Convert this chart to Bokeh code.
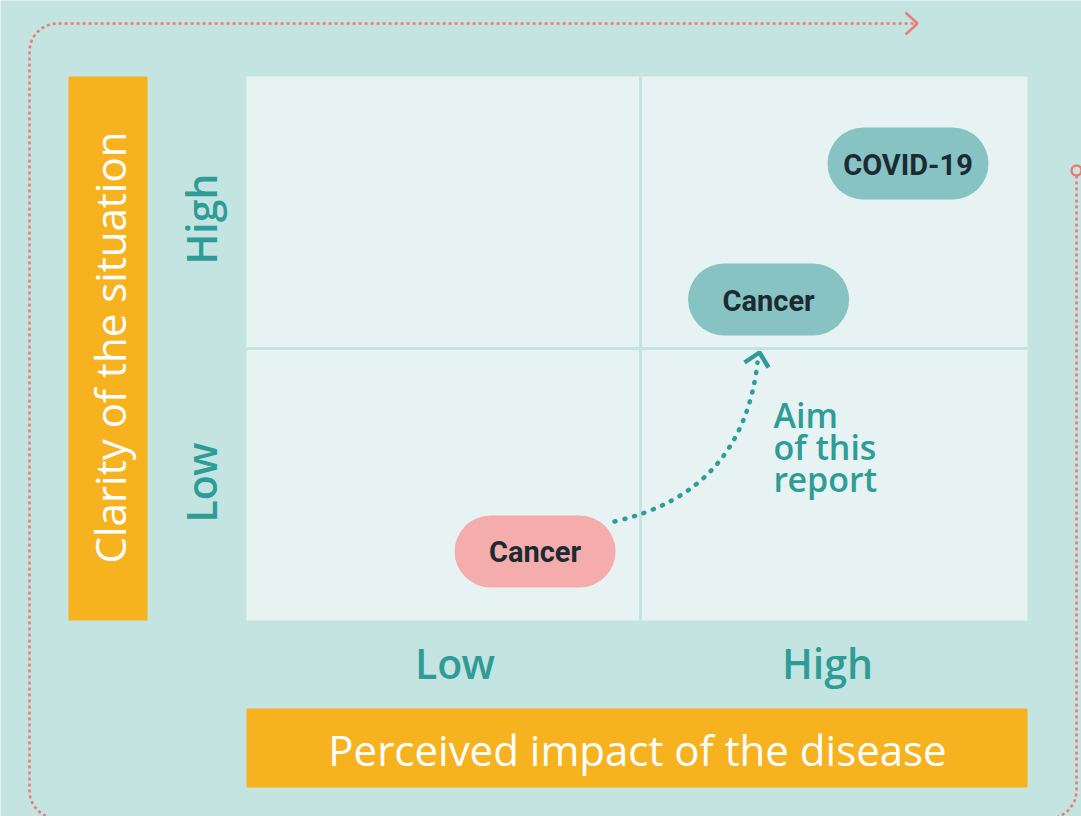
import numpy as np
from bokeh.plotting import figure
from bokeh.models import Range1d
from bokeh.core.properties import value
from bokeh.embed import file_html
from bokeh.resources import INLINE

# ---------------- data ----------------
x_title = "Perceived impact of the disease"
y_title = "Clarity of the situation"
x_ticks = ["Low", "High"]
y_ticks = ["Low", "High"]
items = ["COVID-19", "Cancer", "Cancer"]
impact = [1.694, 1.337, 0.739]        # 0..2 : Low | High
clarity = [1.680, 1.180, 0.254]       # 0..2 : Low | High
item_colors = ["#86c3c2", "#86c3c2", "#f4acac"]
note = ["Aim", "of this", "report"]

# ---------------- layout helpers (page pixels -> quadrant units) ----------------
QX0, QX1, QY0, QY1 = 246, 1027, 76, 620
SX = (QX1 - QX0) / 2.0
SY = (QY1 - QY0) / 2.0
def dx(px):
    return (px - QX0) / SX
def dy(py):
    return (QY1 - py) / SY

W, H = 1081, 816
BG = "#c4e4e1"
YEL = "#f7b220"
TEAL = "#2f9c97"
SALMON = "#ee7a75"

p = figure(width=W, height=H, output_backend="svg", toolbar_location=None,
           x_range=Range1d(dx(0), dx(W)), y_range=Range1d(dy(H), dy(0)),
           min_border=0, outline_line_color=None,
           background_fill_color=BG, border_fill_color=BG)
p.axis.visible = False
p.grid.visible = False

# quadrant panel
p.quad(left=[0], right=[2], bottom=[0], top=[2], fill_color="#e6f3f2", line_color=None)
p.segment(x0=[dx(640), 0], y0=[0, 1], x1=[dx(640), 2], y1=[2, 1], line_color=BG, line_width=3)

# yellow title boxes
p.quad(left=[dx(68)], right=[dx(147)], bottom=[dy(620)], top=[dy(76)], fill_color=YEL, line_color=None)
p.quad(left=[dx(246)], right=[dx(1027)], bottom=[dy(787)], top=[dy(708)], fill_color=YEL, line_color=None)
p.text(x=[dx(637)], y=[dy(749)], text=[x_title], text_color="white",
       text_font=value("Open Sans"), text_font_size="42px",
       text_align="center", text_baseline="alphabetic")
p.text(x=[dx(109)], y=[dy(347)], text=[y_title], text_color="white", angle=np.pi / 2,
       text_font=value("Open Sans"), text_font_size="42px",
       text_align="center", text_baseline="alphabetic")

# tick labels
p.text(x=[dx(454.5), dx(827)], y=[dy(662.5)] * 2, text=x_ticks, text_color=TEAL,
       text_font=value("Open Sans SemiBold"), text_font_size="41px",
       text_align="center", text_baseline="alphabetic")
p.text(x=[dx(200.5)] * 2, y=[dy(482), dy(218.5)], text=y_ticks, text_color=TEAL, angle=np.pi / 2,
       text_font=value("Open Sans SemiBold"), text_font_size="41px",
       text_align="center", text_baseline="alphabetic")

# bubbles
bw, bh = 161 / SX, 72 / SY
p.quad(left=[x - bw / 2 for x in impact], right=[x + bw / 2 for x in impact],
       bottom=[y - bh / 2 for y in clarity], top=[y + bh / 2 for y in clarity],
       fill_color=item_colors, line_color=None, border_radius=36)
p.text(x=impact, y=clarity, text=items, text_color="#1c2a32",
       text_font=value("Roboto"), text_font_style="bold", text_font_size="29px",
       text_align="center", text_baseline="middle", y_offset=1)

# dotted arrow "aim of this report"
p.quadratic(x0=[dx(614)], y0=[dy(521)], x1=[dx(757)], y1=[dy(362)],
            cx=[dx(742)], cy=[dy(492)], line_color=TEAL, line_width=4.5,
            line_dash="1 9", line_cap="round")
p.line(x=[dx(744), dx(759), dx(768)], y=[dy(362), dy(352), dy(367)],
       line_color=TEAL, line_width=4.5)
p.text(x=[dx(773)] * 3, y=[dy(414), dy(446.5), dy(478.5)], text=note, text_color=TEAL,
       text_font=value("Open Sans SemiBold"), text_font_size="34px",
       text_align="left", text_baseline="alphabetic")

# dotted cycle frame
L, R, T, B, r = 29, 1076, 23, 818, 28
def arc(cx, cy, a0, a1, n=20):
    a = np.linspace(a0, a1, n)
    return list(cx + r * np.cos(a)), list(cy - r * np.sin(a))
fx, fy = [R, R], [175, B - r]
ax, ay = arc(R - r, B - r, 0, -np.pi / 2); fx += ax; fy += ay
fx += [L + r]; fy += [B]
ax, ay = arc(L + r, B - r, -np.pi / 2, -np.pi); fx += ax; fy += ay
fx += [L]; fy += [T + r]
ax, ay = arc(L + r, T + r, np.pi, np.pi / 2); fx += ax; fy += ay
fx += [916]; fy += [T]
p.line(x=[dx(v) for v in fx], y=[dy(v) for v in fy], line_color=SALMON,
       line_width=2.6, line_dash="3 3")
p.line(x=[dx(905), dx(917), dx(905)], y=[dy(12), dy(23), dy(34)],
       line_color=SALMON, line_width=2.4)
p.scatter(x=[dx(1076)], y=[dy(170)], size=10, marker="circle",
          fill_color=BG, line_color=SALMON, line_width=2.4)

html = file_html(p, INLINE)
html = html.replace("<body>", '<body style="background:%s;">' % BG, 1)
open("out.html", "w").write(html)
